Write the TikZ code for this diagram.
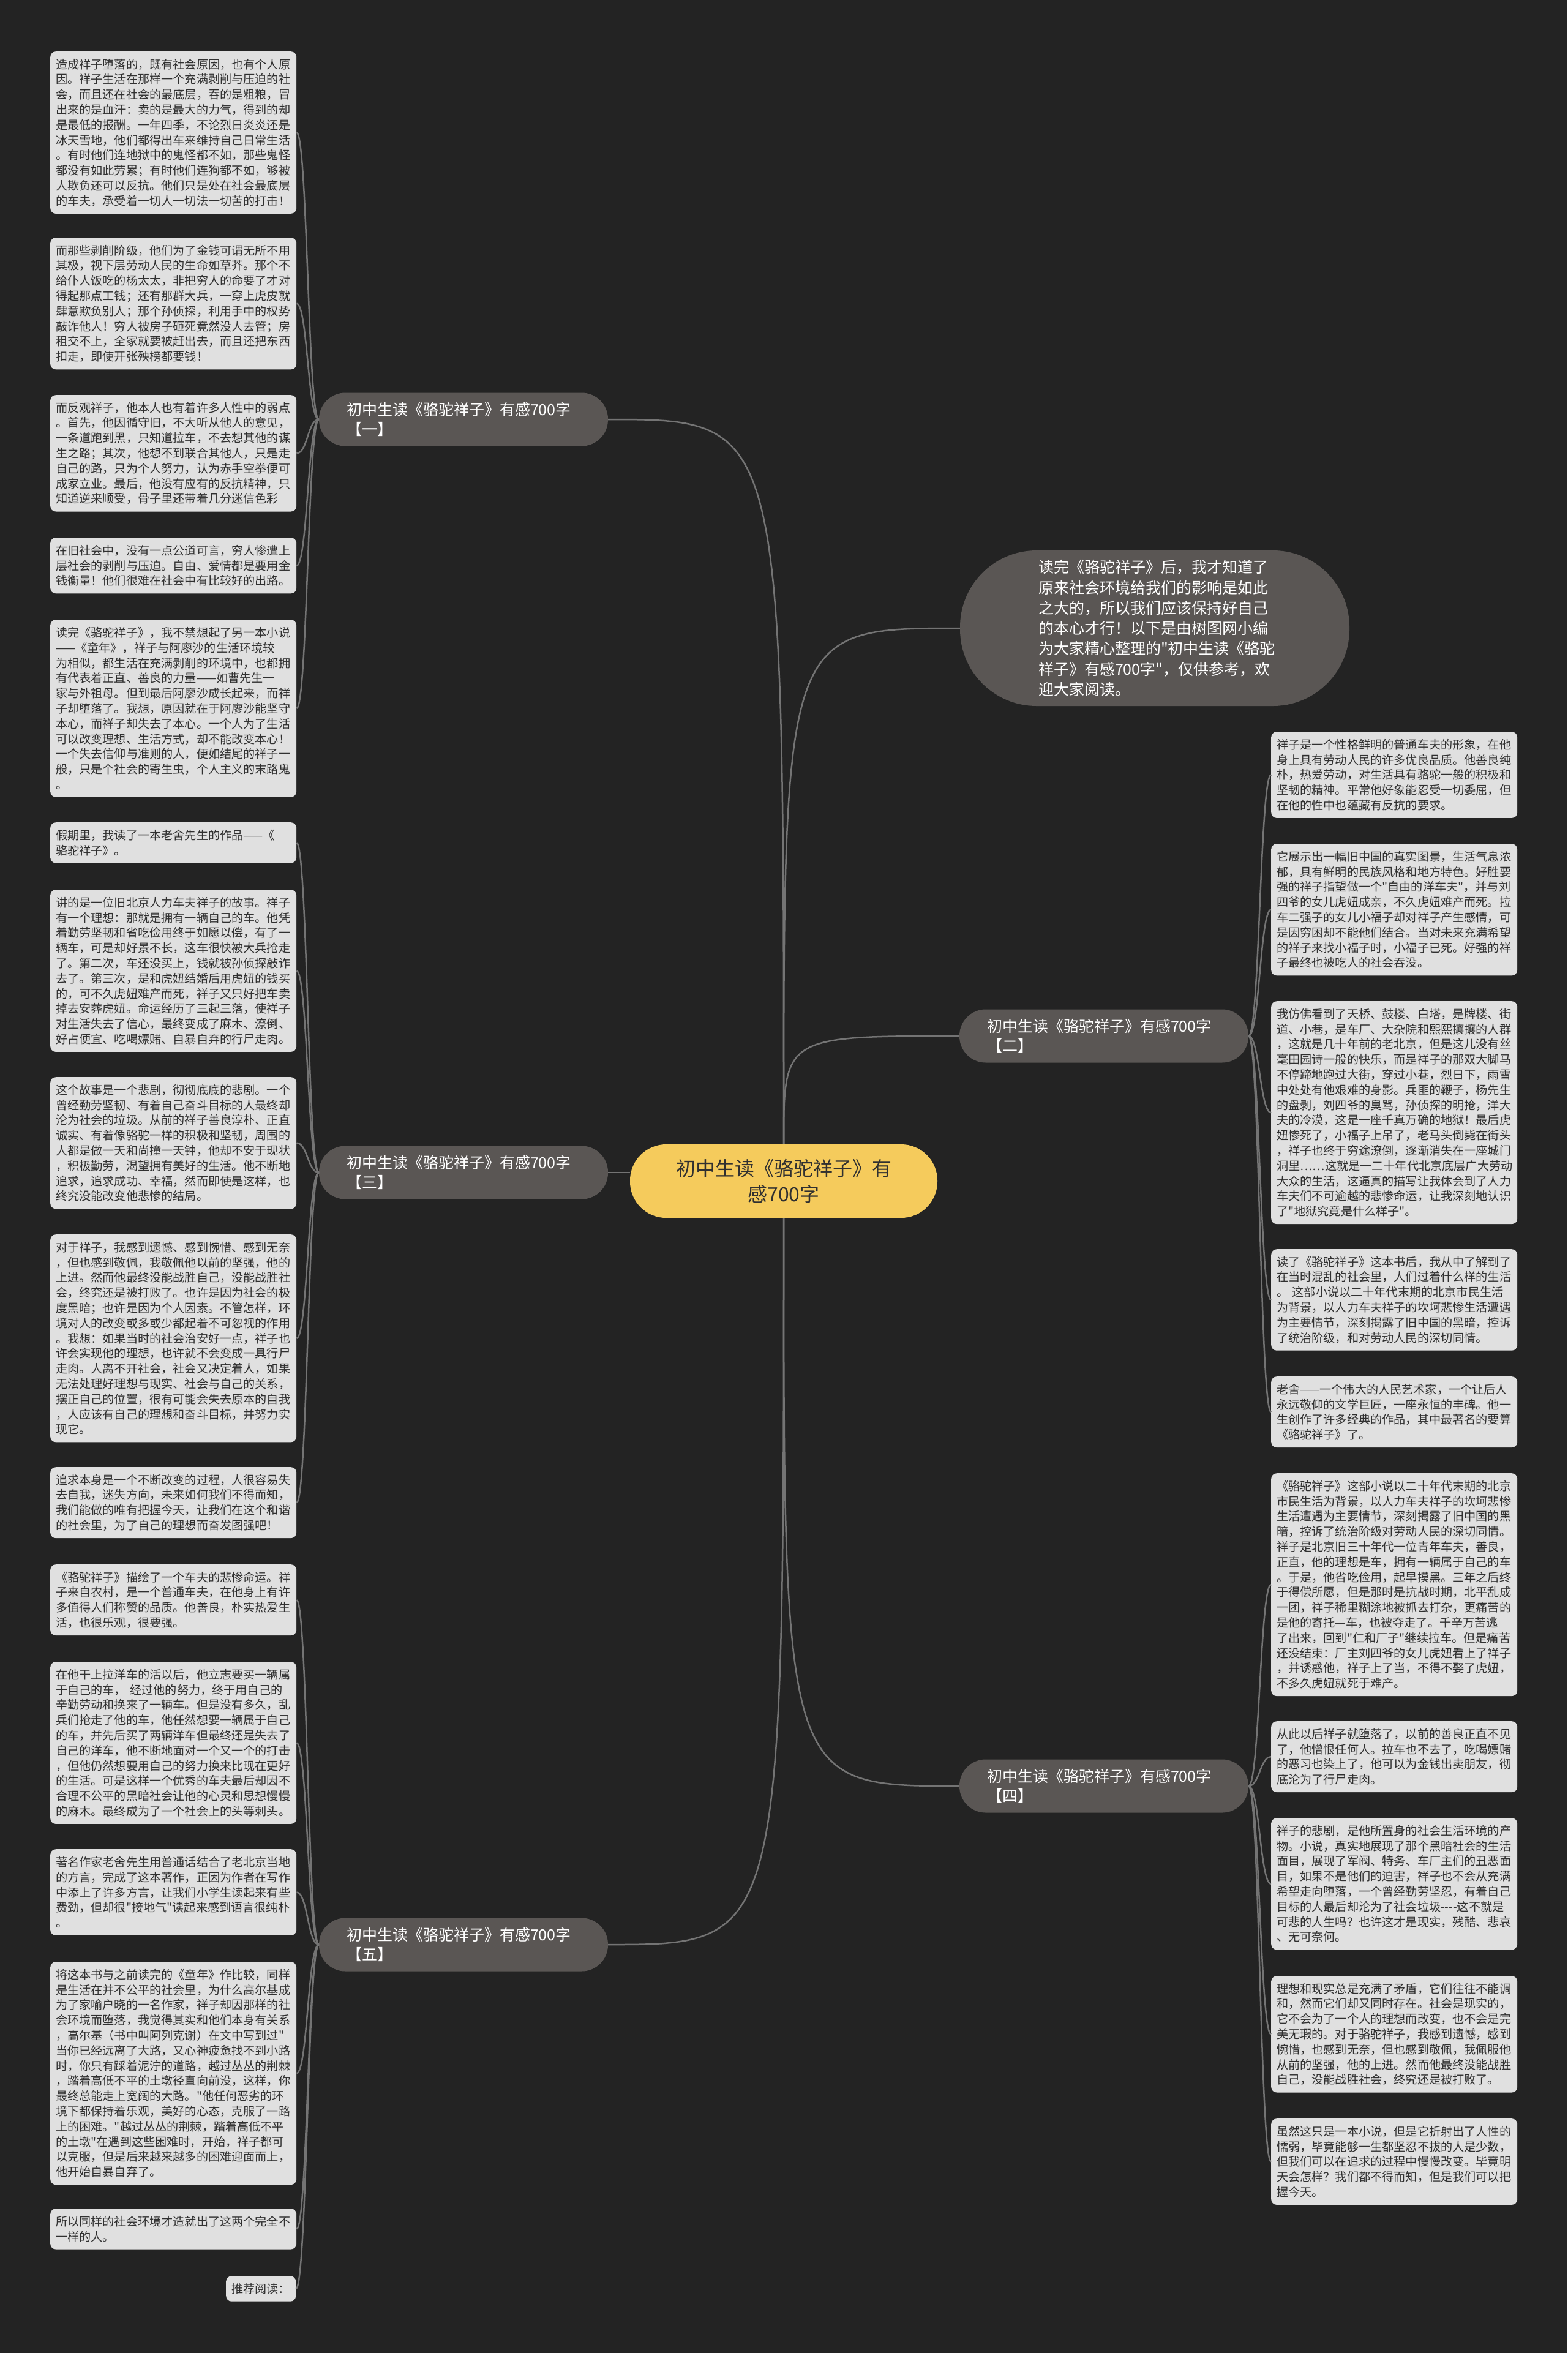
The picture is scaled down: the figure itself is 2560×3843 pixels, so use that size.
\documentclass[tikz,border=0pt]{standalone}
\usepackage{fontspec}
\setmainfont{Noto Sans CJK SC}[Ligatures=TeXOff]
\usepackage{tikz}
\usepackage{xcolor}

\definecolor{bgcol}{HTML}{232323}
\definecolor{leafcol}{HTML}{E0E0E0}
\definecolor{inkcol}{HTML}{303030}
\definecolor{branchcol}{HTML}{5A5654}
\definecolor{rootcol}{HTML}{F5CB5C}
\definecolor{edgecol}{HTML}{747474}

\begin{document}
\begin{tikzpicture}[
    x=1pt, y=-1pt,
    root/.style={
        fill=rootcol,
        rounded corners=59pt,
        align=center,
        minimum width=502pt,
        minimum height=120pt,
        text=inkcol,
        font=\fontsize{32pt}{42pt}\selectfont
    },
    branch/.style={
        fill=branchcol,
        rounded corners=43pt,
        align=left,
        text width=382pt,
        inner xsep=45pt,
        minimum height=87pt,
        text=white,
        font=\fontsize{25pt}{32pt}\selectfont
    },
    intro/.style={
        fill=branchcol,
        rounded corners=125pt,
        align=left,
        text width=380pt,
        inner xsep=128pt,
        minimum height=254pt,
        text=white,
        font=\fontsize{25pt}{33.3pt}\selectfont
    },
    leaf/.style={
        fill=leafcol,
        rounded corners=9pt,
        anchor=north west,
        align=left,
        text width=384pt,
        inner xsep=9pt,
        inner ysep=0pt,
        minimum height={41.5pt+(#1-1)*24.8pt},
        text=inkcol,
        font=\fontsize{19.15pt}{24.8pt}\selectfont
    },
    twig/.style={
        draw=edgecol,
        line width=2.5pt
    },
    link/.style={
        draw=edgecol,
        line width=2.5pt
    }
]

% Canvas
\fill [bgcol] (0,0) rectangle (2560,3843);
\useasboundingbox (0,0) rectangle (2560,3843);

% Nodes
\node (root) [root] at (1280,1929) {初中生读《骆驼祥子》有\\感700字};

\node (intro) [intro] at (1886,1026) {读完《骆驼祥子》后，我才知道了\\原来社会环境给我们的影响是如此\\之大的，所以我们应该保持好自己\\的本心才行！以下是由树图网小编\\为大家精心整理的"初中生读《骆驼\\祥子》有感700字"，仅供参考，欢\\迎大家阅读。};

\node (b1) [branch] at (757,685) {初中生读《骆驼祥子》有感700字\\【一】};
\node (b2) [branch] at (1803,1692) {初中生读《骆驼祥子》有感700字\\【二】};
\node (b3) [branch] at (757,1915) {初中生读《骆驼祥子》有感700字\\【三】};
\node (b4) [branch] at (1803,2917) {初中生读《骆驼祥子》有感700字\\【四】};
\node (b5) [branch] at (757,3176) {初中生读《骆驼祥子》有感700字\\【五】};

% Left leaves, part one
\node (l1) [leaf=10] at (82,84) {造成祥子堕落的，既有社会原因，也有个人原\\因。祥子生活在那样一个充满剥削与压迫的社\\会，而且还在社会的最底层，吞的是粗粮，冒\\出来的是血汗：卖的是最大的力气，得到的却\\是最低的报酬。一年四季，不论烈日炎炎还是\\冰天雪地，他们都得出车来维持自己日常生活\\。有时他们连地狱中的鬼怪都不如，那些鬼怪\\都没有如此劳累；有时他们连狗都不如，够被\\人欺负还可以反抗。他们只是处在社会最底层\\的车夫，承受着一切人一切法一切苦的打击！};
\node (l2) [leaf=8] at (82,388) {而那些剥削阶级，他们为了金钱可谓无所不用\\其极，视下层劳动人民的生命如草芥。那个不\\给仆人饭吃的杨太太，非把穷人的命要了才对\\得起那点工钱；还有那群大兵，一穿上虎皮就\\肆意欺负别人；那个孙侦探，利用手中的权势\\敲诈他人！穷人被房子砸死竟然没人去管；房\\租交不上，全家就要被赶出去，而且还把东西\\扣走，即使开张殃榜都要钱！};
\node (l3) [leaf=7] at (82,645) {而反观祥子，他本人也有着许多人性中的弱点\\。首先，他因循守旧，不大听从他人的意见，\\一条道跑到黑，只知道拉车，不去想其他的谋\\生之路；其次，他想不到联合其他人，只是走\\自己的路，只为个人努力，认为赤手空拳便可\\成家立业。最后，他没有应有的反抗精神，只\\知道逆来顺受，骨子里还带着几分迷信色彩};
\node (l4) [leaf=3] at (82,878) {在旧社会中，没有一点公道可言，穷人惨遭上\\层社会的剥削与压迫。自由、爱情都是要用金\\钱衡量！他们很难在社会中有比较好的出路。};
\node (l5) [leaf=11] at (82,1012) {读完《骆驼祥子》，我不禁想起了另一本小说\\——《童年》，祥子与阿廖沙的生活环境较\\为相似，都生活在充满剥削的环境中，也都拥\\有代表着正直、善良的力量——如曹先生一\\家与外祖母。但到最后阿廖沙成长起来，而祥\\子却堕落了。我想，原因就在于阿廖沙能坚守\\本心，而祥子却失去了本心。一个人为了生活\\可以改变理想、生活方式，却不能改变本心！\\一个失去信仰与准则的人，便如结尾的祥子一\\般，只是个社会的寄生虫，个人主义的末路鬼\\。};

% Left leaves, part three
\node (l6) [leaf=2] at (82,1343) {假期里，我读了一本老舍先生的作品——《\\骆驼祥子》。};
\node (l7) [leaf=10] at (82,1453) {讲的是一位旧北京人力车夫祥子的故事。祥子\\有一个理想：那就是拥有一辆自己的车。他凭\\着勤劳坚韧和省吃俭用终于如愿以偿，有了一\\辆车，可是却好景不长，这车很快被大兵抢走\\了。第二次，车还没买上，钱就被孙侦探敲诈\\去了。第三次，是和虎妞结婚后用虎妞的钱买\\的，可不久虎妞难产而死，祥子又只好把车卖\\掉去安葬虎妞。命运经历了三起三落，使祥子\\对生活失去了信心，最终变成了麻木、潦倒、\\好占便宜、吃喝嫖赌、自暴自弃的行尸走肉。};
\node (l8) [leaf=8] at (82,1759) {这个故事是一个悲剧，彻彻底底的悲剧。一个\\曾经勤劳坚韧、有着自己奋斗目标的人最终却\\沦为社会的垃圾。从前的祥子善良淳朴、正直\\诚实、有着像骆驼一样的积极和坚韧，周围的\\人都是做一天和尚撞一天钟，他却不安于现状\\，积极勤劳，渴望拥有美好的生活。他不断地\\追求，追求成功、幸福，然而即使是这样，也\\终究没能改变他悲惨的结局。};
\node (l9) [leaf=13] at (82,2016) {对于祥子，我感到遗憾、感到惋惜、感到无奈\\，但也感到敬佩，我敬佩他以前的坚强，他的\\上进。然而他最终没能战胜自己，没能战胜社\\会，终究还是被打败了。也许是因为社会的极\\度黑暗；也许是因为个人因素。不管怎样，环\\境对人的改变或多或少都起着不可忽视的作用\\。我想：如果当时的社会治安好一点，祥子也\\许会实现他的理想，也许就不会变成一具行尸\\走肉。人离不开社会，社会又决定着人，如果\\无法处理好理想与现实、社会与自己的关系，\\摆正自己的位置，很有可能会失去原本的自我\\，人应该有自己的理想和奋斗目标，并努力实\\现它。};
\node (l10) [leaf=4] at (82,2396) {追求本身是一个不断改变的过程，人很容易失\\去自我，迷失方向，未来如何我们不得而知，\\我们能做的唯有把握今天，让我们在这个和谐\\的社会里，为了自己的理想而奋发图强吧！};

% Left leaves, part five
\node (l11) [leaf=4] at (82,2555) {《骆驼祥子》描绘了一个车夫的悲惨命运。祥\\子来自农村，是一个普通车夫，在他身上有许\\多值得人们称赞的品质。他善良，朴实热爱生\\活，也很乐观，很要强。};
\node (l12) [leaf=10] at (82,2714) {在他干上拉洋车的活以后，他立志要买一辆属\\于自己的车，\ 经过他的努力，终于用自己的\\辛勤劳动和换来了一辆车。但是没有多久，乱\\兵们抢走了他的车，他任然想要一辆属于自己\\的车，并先后买了两辆洋车但最终还是失去了\\自己的洋车，他不断地面对一个又一个的打击\\，但他仍然想要用自己的努力换来比现在更好\\的生活。可是这样一个优秀的车夫最后却因不\\合理不公平的黑暗社会让他的心灵和思想慢慢\\的麻木。最终成为了一个社会上的头等刺头。};
\node (l13) [leaf=5] at (82,3020) {著名作家老舍先生用普通话结合了老北京当地\\的方言，完成了这本著作，正因为作者在写作\\中添上了许多方言，让我们小学生读起来有些\\费劲，但却很"接地气"读起来感到语言很纯朴\\。};
\node (l14) [leaf=14] at (82,3204) {将这本书与之前读完的《童年》作比较，同样\\是生活在并不公平的社会里，为什么高尔基成\\为了家喻户晓的一名作家，祥子却因那样的社\\会环境而堕落，我觉得其实和他们本身有关系\\，高尔基（书中叫阿列克谢）在文中写到过"\\当你已经远离了大路，又心神疲惫找不到小路\\时，你只有踩着泥泞的道路，越过丛丛的荆棘\\，踏着高低不平的土墩径直向前没，这样，你\\最终总能走上宽阔的大路。"他任何恶劣的环\\境下都保持着乐观，美好的心态，克服了一路\\上的困难。"越过丛丛的荆棘，踏着高低不平\\的土墩"在遇到这些困难时，开始，祥子都可\\以克服，但是后来越来越多的困难迎面而上，\\他开始自暴自弃了。};
\node (l15) [leaf=2] at (82,3607) {所以同样的社会环境才造就出了这两个完全不\\一样的人。};
\node (l16) [leaf=1, text width=96pt] at (369,3717) {推荐阅读：};

% Right leaves, part two
\node (r1) [leaf=5] at (2076,1195) {祥子是一个性格鲜明的普通车夫的形象，在他\\身上具有劳动人民的许多优良品质。他善良纯\\朴，热爱劳动，对生活具有骆驼一般的积极和\\坚韧的精神。平常他好象能忍受一切委屈，但\\在他的性中也蕴藏有反抗的要求。};
\node (r2) [leaf=8] at (2076,1378) {它展示出一幅旧中国的真实图景，生活气息浓\\郁，具有鲜明的民族风格和地方特色。好胜要\\强的祥子指望做一个"自由的洋车夫"，并与刘\\四爷的女儿虎妞成亲，不久虎妞难产而死。拉\\车二强子的女儿小福子却对祥子产生感情，可\\是因穷困却不能他们结合。当对未来充满希望\\的祥子来找小福子时，小福子已死。好强的祥\\子最终也被吃人的社会吞没。};
\node (r3) [leaf=14] at (2076,1635) {我仿佛看到了天桥、鼓楼、白塔，是牌楼、街\\道、小巷，是车厂、大杂院和熙熙攘攘的人群\\，这就是几十年前的老北京，但是这儿没有丝\\毫田园诗一般的快乐，而是祥子的那双大脚马\\不停蹄地跑过大街，穿过小巷，烈日下，雨雪\\中处处有他艰难的身影。兵匪的鞭子，杨先生\\的盘剥，刘四爷的臭骂，孙侦探的明抢，洋大\\夫的冷漠，这是一座千真万确的地狱！最后虎\\妞惨死了，小福子上吊了，老马头倒毙在街头\\，祥子也终于穷途潦倒，逐渐消失在一座城门\\洞里……这就是一二十年代北京底层广大劳动\\大众的生活，这逼真的描写让我体会到了人力\\车夫们不可逾越的悲惨命运，让我深刻地认识\\了"地狱究竟是什么样子"。};
\node (r4) [leaf=6] at (2076,2040) {读了《骆驼祥子》这本书后，我从中了解到了\\在当时混乱的社会里，人们过着什么样的生活\\。\ 这部小说以二十年代末期的北京市民生活\\为背景，以人力车夫祥子的坎坷悲惨生活遭遇\\为主要情节，深刻揭露了旧中国的黑暗，控诉\\了统治阶级，和对劳动人民的深切同情。};
\node (r5) [leaf=4] at (2076,2248) {老舍——一个伟大的人民艺术家，一个让后人\\永远敬仰的文学巨匠，一座永恒的丰碑。他一\\生创作了许多经典的作品，其中最著名的要算\\《骆驼祥子》了。};

% Right leaves, part four
\node (r6) [leaf=14] at (2076,2406) {《骆驼祥子》这部小说以二十年代末期的北京\\市民生活为背景，以人力车夫祥子的坎坷悲惨\\生活遭遇为主要情节，深刻揭露了旧中国的黑\\暗，控诉了统治阶级对劳动人民的深切同情。\\祥子是北京旧三十年代一位青年车夫，善良，\\正直，他的理想是车，拥有一辆属于自己的车\\。于是，他省吃俭用，起早摸黑。三年之后终\\于得偿所愿，但是那时是抗战时期，北平乱成\\一团，祥子稀里糊涂地被抓去打杂，更痛苦的\\是他的寄托—车，也被夺走了。千辛万苦逃\\了出来，回到"仁和厂子"继续拉车。但是痛苦\\还没结束：厂主刘四爷的女儿虎妞看上了祥子\\，并诱惑他，祥子上了当，不得不娶了虎妞，\\不多久虎妞就死于难产。};
\node (r7) [leaf=4] at (2076,2811) {从此以后祥子就堕落了，以前的善良正直不见\\了，他憎恨任何人。拉车也不去了，吃喝嫖赌\\的恶习也染上了，他可以为金钱出卖朋友，彻\\底沦为了行尸走肉。};
\node (r8) [leaf=8] at (2076,2969) {祥子的悲剧，是他所置身的社会生活环境的产\\物。小说，真实地展现了那个黑暗社会的生活\\面目，展现了军阀、特务、车厂主们的丑恶面\\目，如果不是他们的迫害，祥子也不会从充满\\希望走向堕落，一个曾经勤劳坚忍，有着自己\\目标的人最后却沦为了社会垃圾----这不就是\\可悲的人生吗？也许这才是现实，残酷、悲哀\\、无可奈何。};
\node (r9) [leaf=7] at (2076,3227) {理想和现实总是充满了矛盾，它们往往不能调\\和，然而它们却又同时存在。社会是现实的，\\它不会为了一个人的理想而改变，也不会是完\\美无瑕的。对于骆驼祥子，我感到遗憾，感到\\惋惜，也感到无奈，但也感到敬佩，我佩服他\\从前的坚强，他的上进。然而他最终没能战胜\\自己，没能战胜社会，终究还是被打败了。};
\node (r10) [leaf=5] at (2076,3460) {虽然这只是一本小说，但是它折射出了人性的\\懦弱，毕竟能够一生都坚忍不拔的人是少数，\\但我们可以在追求的过程中慢慢改变。毕竟明\\天会怎样？我们都不得而知，但是我们可以把\\握今天。};

% Paths from the root
\draw [twig] (root.north) .. controls (root.north |- b1) .. (b1.east);
\draw [twig] (root.north) .. controls (root.north |- intro) .. (intro.west);
\draw [twig] (root.north) .. controls (root.north |- b2) .. (b2.west);
\draw [twig] (b3.east) -- (b3.east -| root.west);
\draw [twig] (root.south) .. controls (root.south |- b4) .. (b4.west);
\draw [twig] (root.south) .. controls (root.south |- b5) .. (b5.east);

% Paths to the leaves
\draw [link] (b1.west) .. controls +(-18,0) and +(18,0) .. (l1.east);
\draw [link] (b1.west) .. controls +(-18,0) and +(18,0) .. (l2.east);
\draw [link] (b1.west) .. controls +(-18,0) and +(18,0) .. (l3.east);
\draw [link] (b1.west) .. controls +(-18,0) and +(18,0) .. (l4.east);
\draw [link] (b1.west) .. controls +(-18,0) and +(18,0) .. (l5.east);
\draw [link] (b3.west) .. controls +(-18,0) and +(18,0) .. (l6.east);
\draw [link] (b3.west) .. controls +(-18,0) and +(18,0) .. (l7.east);
\draw [link] (b3.west) .. controls +(-18,0) and +(18,0) .. (l8.east);
\draw [link] (b3.west) .. controls +(-18,0) and +(18,0) .. (l9.east);
\draw [link] (b3.west) .. controls +(-18,0) and +(18,0) .. (l10.east);
\draw [link] (b5.west) .. controls +(-18,0) and +(18,0) .. (l11.east);
\draw [link] (b5.west) .. controls +(-18,0) and +(18,0) .. (l12.east);
\draw [link] (b5.west) .. controls +(-18,0) and +(18,0) .. (l13.east);
\draw [link] (b5.west) .. controls +(-18,0) and +(18,0) .. (l14.east);
\draw [link] (b5.west) .. controls +(-18,0) and +(18,0) .. (l15.east);
\draw [link] (b5.west) .. controls +(-18,0) and +(18,0) .. (l16.east);
\draw [link] (b2.east) .. controls +(18,0) and +(-18,0) .. (r1.west);
\draw [link] (b2.east) .. controls +(18,0) and +(-18,0) .. (r2.west);
\draw [link] (b2.east) .. controls +(18,0) and +(-18,0) .. (r3.west);
\draw [link] (b2.east) .. controls +(18,0) and +(-18,0) .. (r4.west);
\draw [link] (b2.east) .. controls +(18,0) and +(-18,0) .. (r5.west);
\draw [link] (b4.east) .. controls +(18,0) and +(-18,0) .. (r6.west);
\draw [link] (b4.east) .. controls +(18,0) and +(-18,0) .. (r7.west);
\draw [link] (b4.east) .. controls +(18,0) and +(-18,0) .. (r8.west);
\draw [link] (b4.east) .. controls +(18,0) and +(-18,0) .. (r9.west);
\draw [link] (b4.east) .. controls +(18,0) and +(-18,0) .. (r10.west);

\end{tikzpicture}
\end{document}
